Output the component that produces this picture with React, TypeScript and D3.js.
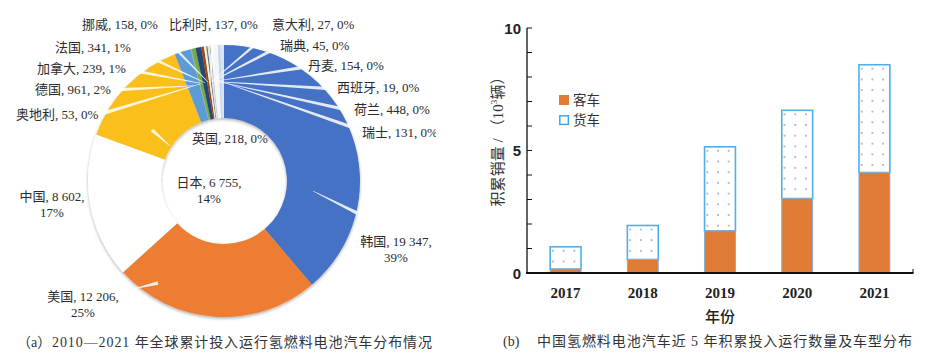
import React from 'react';
import * as d3 from 'd3';

// ---------- data: donut (a) ----------
const countries = ['韩国', '美国', '中国', '日本', '德国', '奥地利', '加拿大', '法国', '挪威', '比利时', '意大利', '瑞典', '丹麦', '西班牙', '荷兰', '瑞士', '英国'];
const vehicles = [19347, 12206, 8602, 6755, 961, 53, 239, 341, 158, 137, 27, 45, 154, 19, 448, 131, 218];
const shares = ['39%', '25%', '17%', '14%', '2%', '0%', '1%', '1%', '0%', '0%', '0%', '0%', '0%', '0%', '0%', '0%', '0%'];
const sliceColors = ['#4472C4', '#ED7D31', '#FFFFFF', '#FBBF1E', '#5B9BD5', '#A5A5A5', '#70AD47', '#264478', '#9E480E', '#F2F2F2', '#997300', '#255E91', '#E4E4E4', '#43682B', '#F4F6FA', '#C9D6EA', '#DAE3F3'];

// ---------- data: bars (b) ----------
const years = ['2017', '2018', '2019', '2020', '2021'];
const busValues = [0.16, 0.55, 1.72, 3.04, 4.1];
const truckValues = [0.91, 1.39, 3.43, 3.6, 4.4];
const yTickLabels = [0, 5, 10];
const yMinorTicks = [0, 1, 2, 3, 4, 5, 6, 7, 8, 9, 10];

// ---------- label layout (a) ----------
type Lab = { i: number; x: number; y: number; two?: boolean; y2?: number; fx?: number; fy?: number; sx?: number; sy?: number };
const labelLayout: Lab[] = [
  { i: 0, x: 396, y: 246, two: true, y2: 262, sx: 313, sy: 191, fx: 357, fy: 213 },
  { i: 1, x: 83, y: 301, two: true, y2: 317, sx: 133, sy: 289, fx: 158, fy: 283 },
  { i: 2, x: 52, y: 201, two: true, y2: 217 },
  { i: 3, x: 209, y: 187, two: true, y2: 203, sx: 170, sy: 146, fx: 152, fy: 130 },
  { i: 4, x: 35, y: 94, fx: 114, fy: 90 },
  { i: 5, x: 16, y: 119, fx: 101, fy: 114 },
  { i: 6, x: 37, y: 73, fx: 130, fy: 70 },
  { i: 7, x: 55, y: 52, fx: 134, fy: 50 },
  { i: 8, x: 82, y: 29, fx: 160, fy: 33 },
  { i: 9, x: 169, y: 29, fx: 214, fy: 34 },
  { i: 10, x: 272, y: 29, fx: 268, fy: 34 },
  { i: 11, x: 280, y: 50, fx: 278, fy: 47 },
  { i: 12, x: 308, y: 70, fx: 306, fy: 67 },
  { i: 13, x: 337, y: 92, fx: 336, fy: 89 },
  { i: 14, x: 354, y: 114, fx: 352, fy: 111 },
  { i: 15, x: 362, y: 137, fx: 360, fy: 130 },
  { i: 16, x: 192, y: 143 },
];

const SERIF = "'Liberation Serif', 'Noto Sans CJK SC', serif";
const SANS = "'Liberation Sans', 'Noto Sans CJK SC', sans-serif";
const CJK = "'Noto Sans CJK SC', sans-serif";

const fmt = (v: number) => d3.format(',')(v).replace(/,/g, ' ');

function flarePath(x1: number, y1: number, x2: number, y2: number, w1: number, w2: number) {
  const dx = x2 - x1, dy = y2 - y1;
  const L = Math.hypot(dx, dy) || 1;
  const nx = -dy / L, ny = dx / L;
  return `M${x1 + nx * w1 / 2},${y1 + ny * w1 / 2}L${x2 + nx * w2 / 2},${y2 + ny * w2 / 2}L${x2 - nx * w2 / 2},${y2 - ny * w2 / 2}L${x1 - nx * w1 / 2},${y1 - ny * w1 / 2}Z`;
}

export default function App() {
  const cx = 224, cy = 181, rOuter = 136, rInner = 63;
  const pie = d3.pie<number>().sort(null).startAngle(0).endAngle(2 * Math.PI);
  const arcs = pie(vehicles);
  const arc = d3.arc<d3.PieArcDatum<number>>().innerRadius(rInner).outerRadius(rOuter);

  const x = d3.scaleBand<string>().domain(years).range([527, 913]).paddingInner(0.6).paddingOuter(0.3);
  const y = d3.scaleLinear().domain([0, 10]).range([273, 28]);

  return (
    <svg width={930} height={361} style={{ position: 'absolute', left: 0, top: 0, background: '#fff' }}>
      <defs>
        <filter id="shadow" x="-20%" y="-20%" width="140%" height="140%">
          <feDropShadow dx="0" dy="1.5" stdDeviation="1.6" floodColor="#000" floodOpacity="0.32" />
        </filter>
        <clipPath id="leftClip">
          <rect x={0} y={0} width={436} height={361} />
        </clipPath>
        {years.map((yr, i) => (
          <pattern key={yr} id={`dots${i}`} patternUnits="userSpaceOnUse" width={10.7} height={10.7}
            x={(x(yr) as number) + 1.8} y={y(busValues[i] + truckValues[i]) + 3}>
            <rect width={10.7} height={10.7} fill="#fff" />
            <circle cx={1} cy={1} r={0.75} fill="#3E5FA8" />
          </pattern>
        ))}
      </defs>

      {/* ---------- (a) donut ---------- */}
      <g clipPath="url(#leftClip)">
        <g transform={`translate(${cx},${cy})`} filter="url(#shadow)">
          {arcs.map((a, i) => (
            <path key={countries[i]} d={arc(a) as string} fill={sliceColors[i]} />
          ))}
        </g>
        <g fill="#fff" opacity={0.85}>
          {labelLayout.filter(l => l.fx !== undefined).map(l => {
            let sx = l.sx, sy = l.sy;
            if (sx === undefined) {
              const a = arcs[l.i];
              const mid = (a.startAngle + a.endAngle) / 2;
              sx = cx + 100 * Math.sin(mid);
              sy = cy - 100 * Math.cos(mid);
            }
            return <path key={l.i} d={flarePath(sx!, sy!, l.fx!, l.fy!, 0.4, 3.6)} />;
          })}
        </g>
        <g fontFamily={SERIF} fontSize={13} fill="#2b2b2b">
          {labelLayout.map(l => {
            const name = countries[l.i];
            if (l.two) {
              return (
                <g key={name} textAnchor="middle">
                  <text x={l.x} y={l.y}>{`${name}, ${fmt(vehicles[l.i])},`}</text>
                  <text x={l.x} y={l.y2}>{shares[l.i]}</text>
                </g>
              );
            }
            return <text key={name} x={l.x} y={l.y}>{`${name}, ${fmt(vehicles[l.i])}, ${shares[l.i]}`}</text>;
          })}
        </g>
      </g>
      <g fontFamily={SERIF} fontSize={14} fill="#333">
        <text x={17} y={347}>（a）</text>
        <text x={52} y={347} textLength={380} lengthAdjust="spacing">2010—2021 年全球累计投入运行氢燃料电池汽车分布情况</text>
      </g>

      {/* ---------- (b) stacked bars ---------- */}
      <g>
        {years.map((yr, i) => {
          const bx = x(yr) as number;
          const bw = x.bandwidth();
          const top = y(busValues[i] + truckValues[i]);
          const mid = y(busValues[i]);
          return (
            <g key={yr}>
              <rect x={bx} y={top} width={bw} height={mid - top} fill={`url(#dots${i})`} stroke="#4FAFE6" strokeWidth={1.6} />
              <rect x={bx} y={mid} width={bw} height={y(0) - mid} fill="#E07B35" stroke="#86AECF" strokeWidth={1} />
            </g>
          );
        })}
      </g>
      <g stroke="#111">
        <line x1={527} y1={y(10)} x2={527} y2={y(0)} strokeWidth={1.3} />
        {yMinorTicks.map(t => (
          <line key={t} x1={527} x2={532} y1={y(t)} y2={y(t)} strokeWidth={1} />
        ))}
        <line x1={526} y1={y(0)} x2={913.5} y2={y(0)} strokeWidth={2} />
        <line x1={913} y1={y(0)} x2={913} y2={y(0) - 4} strokeWidth={1} />
      </g>
      <g fontFamily={SANS} fontSize={15} fontWeight="bold" fill="#222" textAnchor="end">
        {yTickLabels.map(t => (
          <text key={t} x={521} y={y(t) + 5.5}>{t}</text>
        ))}
      </g>
      <g fontFamily={SERIF} fontSize={15} fontWeight="bold" fill="#222" textAnchor="middle">
        {years.map(yr => (
          <text key={yr} x={(x(yr) as number) + x.bandwidth() / 2} y={298}>{yr}</text>
        ))}
      </g>
      <text x={720} y={322} fontFamily={CJK} fontSize={15} fontWeight={500} fill="#222" textAnchor="middle">年份</text>
      <text transform="translate(503,138) rotate(-90)" fontFamily={SERIF} fontSize={15} fill="#333" textAnchor="middle" textLength={137} lengthAdjust="spacing">
        积累销量 / （10<tspan fontSize={9} dy={-6}>3</tspan><tspan dy={6}>辆）</tspan>
      </text>
      <rect x={559} y={95} width={10} height={10} fill="#E07B35" />
      <rect x={559.8} y={115.8} width={8.6} height={8.6} fill="#fff" stroke="#3FA9E6" strokeWidth={1.5} />
      <g fontFamily={CJK} fontSize={13.5} fill="#333">
        <text x={573} y={105}>客车</text>
        <text x={573} y={125}>货车</text>
      </g>
      <g fontFamily={SERIF} fontSize={14} fill="#333">
        <text x={503} y={346}>(b)</text>
        <text x={537} y={346} textLength={375} lengthAdjust="spacing">中国氢燃料电池汽车近 5 年积累投入运行数量及车型分布</text>
      </g>
    </svg>
  );
}
